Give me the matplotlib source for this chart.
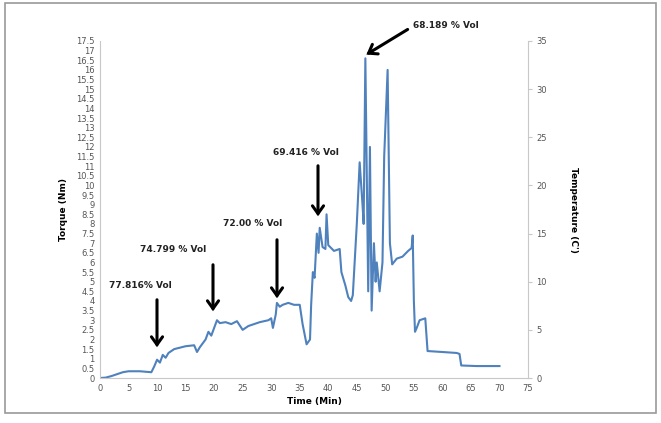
import matplotlib
matplotlib.use("Agg")
import matplotlib.pyplot as plt
from matplotlib.patches import Rectangle, FancyArrowPatch

time_min = [0, 1, 2, 3, 4, 5, 7, 9, 9.5, 10, 10.5, 11, 11.5, 12, 13, 15, 16.5, 17, 17.5,
            18.5, 19, 19.5, 20, 20.5, 21, 22, 23, 24, 25, 26, 28, 29.5, 30, 30.3, 30.8, 31,
            31.5, 32, 33, 34, 35, 35.5, 36.2, 36.8, 37, 37.3, 37.6, 38, 38.3, 38.5, 39, 39.5,
            39.7, 40, 41, 42, 42.3, 43, 43.5, 44, 44.3, 45, 45.5, 46, 46.2, 46.5, 47, 47.3,
            47.6, 48, 48.3, 48.5, 49, 49.5, 49.8, 50.4, 50.8, 51.2, 52, 53, 54, 54.6, 54.8,
            55, 55.2, 55.5, 56, 57, 57.4, 60, 62.5, 63, 63.3, 66, 70]
torque_nm = [0, 0.02, 0.1, 0.2, 0.3, 0.35, 0.35, 0.3, 0.6, 0.95, 0.8, 1.2, 1.05, 1.3, 1.5, 1.65, 1.7, 1.35, 1.6,
             2.0, 2.4, 2.2, 2.6, 3.0, 2.85, 2.9, 2.8, 2.95, 2.5, 2.7, 2.9, 3.0, 3.1, 2.6, 3.3, 3.9,
             3.7, 3.8, 3.9, 3.8, 3.8, 2.8, 1.75, 2.0, 3.8, 5.5, 5.2, 7.5, 6.5, 7.8, 6.8, 6.7,
             8.5, 6.9, 6.6, 6.7, 5.5, 4.8, 4.2, 4.0, 4.3, 8.0, 11.2, 9.0, 8.0, 16.6, 4.5, 12.0,
             3.5, 7.0, 5.0, 6.0, 4.5, 6.0, 11.5, 16.0, 7.0, 5.9, 6.2, 6.3, 6.6, 6.75, 7.4,
             4.0, 2.4, 2.6, 3.0, 3.1, 1.4, 1.35, 1.3, 1.25, 0.65, 0.62, 0.62]

annotations = [
    ("77.816% Vol", 140, 286, 157, 297, 157, 350),
    ("74.799 % Vol", 173, 249, 213, 262, 213, 314),
    ("72.00 % Vol", 253, 223, 277, 237, 277, 301),
    ("69.416 % Vol", 306, 152, 318, 163, 318, 219),
    ("68.189 % Vol", 446, 25, 410, 28, 364, 56),
]

W, H = 661, 423
fig = plt.figure(figsize=(W / 100, H / 100), dpi=100)
fig.patch.set_facecolor("white")
fig.patches.append(Rectangle((5 / W, 10 / H), 651 / W, 410 / H, transform=fig.transFigure,
                             fill=False, edgecolor="#9a9a9a", linewidth=1.2))

ax = fig.add_axes([100 / W, 45 / H, 428 / W, 337 / H])
ax.plot(time_min, torque_nm, color="#4F81BD", linewidth=1.5)
ax.set_xlim(0, 75)
ax.set_ylim(0, 17.5)
ax.set_xticks(range(0, 80, 5))
yt = [i * 0.5 for i in range(36)]
ax.set_yticks(yt)
ax.set_yticklabels([("%g" % v) for v in yt])
for s in ["top", "right"]:
    ax.spines[s].set_visible(False)
for s in ["left", "bottom"]:
    ax.spines[s].set_color("#c8c8c8")
ax.tick_params(axis="both", labelsize=6, colors="#c8c8c8", labelcolor="#555555", length=0, pad=4)
ax.set_xlabel("Time (Min)", fontsize=6.5, fontweight="bold", labelpad=3)
ax.set_ylabel("Torque (Nm)", fontsize=6.5, fontweight="bold", labelpad=6)

ax2 = ax.twinx()
ax2.set_ylim(0, 35)
ax2.set_yticks(range(0, 40, 5))
for s in ["top", "left", "bottom"]:
    ax2.spines[s].set_visible(False)
ax2.spines["right"].set_color("#c8c8c8")
ax2.tick_params(axis="y", labelsize=6, colors="#c8c8c8", labelcolor="#555555", length=3, direction="out", pad=3)
ax2.set_ylabel("Temperature (C')", fontsize=6.5, fontweight="bold", rotation=-90, labelpad=22)

def px(x, y):
    return (x / W, 1 - y / H)

for text, tx, ty, x0, y0, x1, y1 in annotations:
    fig.text(*px(tx, ty), text, fontsize=6.5, fontweight="bold", ha="center", va="center", color="#222222")
    fig.patches.append(FancyArrowPatch(px(x0, y0), px(x1, y1), transform=fig.transFigure,
                        arrowstyle="->,head_length=3.5,head_width=2.5", mutation_scale=1.6,
                        color="black", linewidth=2.2, joinstyle="miter"))

fig.savefig("out.png", dpi=100, facecolor="white")
